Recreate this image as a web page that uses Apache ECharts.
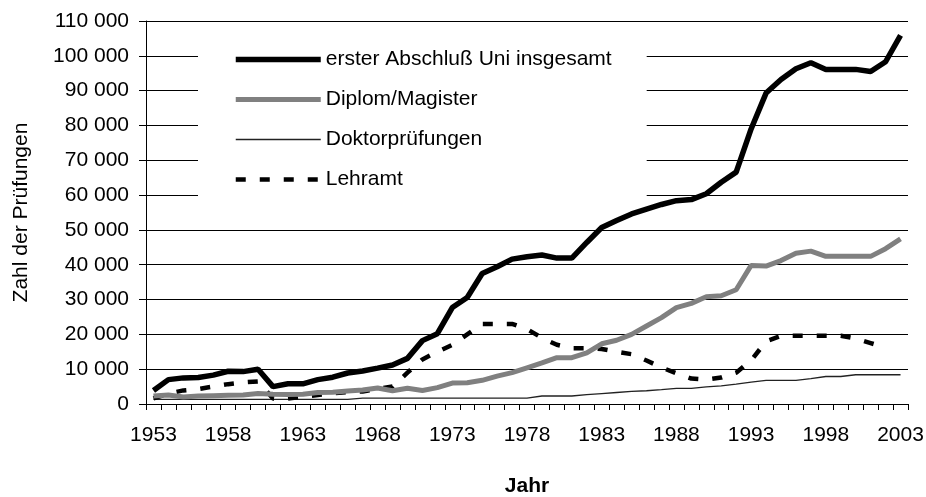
<!DOCTYPE html>
<html>
<head>
<meta charset="utf-8">
<script src="https://cdn.jsdelivr.net/npm/echarts@6/dist/echarts.min.js"></script>
<style>
  html, body { margin: 0; padding: 0; background: #fff; }
  #main { width: 926px; height: 497px; }
</style>
</head>
<body>
<div id="main"></div>
<script>
// Jahre (Kategorien)
var years = ['1953','1954','1955','1956','1957','1958','1959','1960','1961','1962',
  '1963','1964','1965','1966','1967','1968','1969','1970','1971','1972',
  '1973','1974','1975','1976','1977','1978','1979','1980','1981','1982',
  '1983','1984','1985','1986','1987','1988','1989','1990','1991','1992',
  '1993','1994','1995','1996','1997','1998','1999','2000','2001','2002','2003'];

// erster Abschluß Uni insgesamt
var gesamt = [3900, 7000, 7500, 7600, 8300, 9400, 9300, 10000, 5000, 5800,
  5800, 7000, 7700, 8900, 9500, 10300, 11200, 13100, 18200, 20200,
  27700, 30600, 37500, 39400, 41600, 42300, 42800, 41900, 41900, 46400,
  50700, 52700, 54600, 56000, 57300, 58400, 58700, 60400, 63700, 66600,
  79000, 89300, 93200, 96300, 98000, 96100, 96100, 96100, 95500, 98300, 105900];

// Diplom/Magister
var diplom = [2300, 2600, 2000, 2300, 2400, 2500, 2600, 3000, 2800, 2700,
  2800, 3300, 3400, 3700, 4000, 4600, 3800, 4500, 3900, 4700,
  6000, 6100, 6800, 8000, 9000, 10400, 11800, 13300, 13300, 14700,
  17300, 18300, 20000, 22400, 24800, 27700, 28900, 30800, 31100, 32800,
  39800, 39600, 41200, 43300, 43900, 42400, 42400, 42400, 42400, 44600, 47400];

// Doktorprüfungen
var doktor = [1300, 1300, 1300, 1300, 1300, 1300, 1300, 1300, 1300, 1300,
  1300, 1300, 1300, 1300, 1700, 1700, 1700, 1700, 1700, 1700,
  1700, 1700, 1700, 1700, 1700, 1700, 2300, 2300, 2300, 2700,
  3000, 3300, 3600, 3800, 4100, 4500, 4500, 4900, 5200, 5700,
  6300, 6800, 6800, 6800, 7300, 7900, 7900, 8400, 8400, 8400, 8400];

// Lehramt
var lehramt = [1600, 3000, 3900, 4300, 5000, 5700, 6200, 6500, 1600, 1600,
  2100, 2600, 3100, 3400, 3600, 4300, 5000, 9000, 12800, 15000,
  17000, 20000, 23000, 23000, 23000, 21500, 19000, 17000, 16000, 16000,
  15800, 15000, 14300, 12500, 10500, 8800, 7300, 7000, 7600, 9000,
  12500, 18000, 19600, 19600, 19600, 19600, 19600, 18800, 17500, 16200, '-'];

var yTicks = { min: 0, max: 110000, step: 10000 };
var markYear = '1993';

var FONT = 'Liberation Sans, Arial, sans-serif';

function fmt(v) {
  return String(v).replace(/\B(?=(\d{3})+(?!\d))/g, ' ');
}

var chart = echarts.init(document.getElementById('main'), null, { renderer: 'canvas' });

var option = {
  backgroundColor: '#fff',
  animation: false,
  textStyle: { fontFamily: FONT },
  grid: { left: 146, right: 18, top: 21, bottom: 93, outerBoundsMode: 'none' },
  legend: {
    orient: 'vertical',
    left: 198,
    top: 35,
    padding: [14, 35, 22, 35],
    backgroundColor: '#fff',
    itemWidth: 85,
    itemHeight: 14,
    itemGap: 19,
    itemStyle: { opacity: 0 },
    lineStyle: { width: 'inherit' },
    textStyle: { fontSize: 21, color: '#000', fontFamily: FONT },
    data: ['erster Abschluß Uni insgesamt', 'Diplom/Magister', 'Doktorprüfungen', 'Lehramt']
  },
  xAxis: {
    type: 'category',
    data: years,
    boundaryGap: true,
    name: 'Jahr',
    nameLocation: 'middle',
    nameGap: 72,
    nameTextStyle: { fontSize: 21, fontWeight: 'bold', color: '#000', fontFamily: FONT },
    axisLine: { lineStyle: { color: '#000', width: 1 } },
    axisTick: { show: true, interval: 0, length: 6, lineStyle: { color: '#000' } },
    axisLabel: { interval: 4, margin: 21, fontSize: 21, color: '#000', fontFamily: FONT },
    splitLine: { show: false }
  },
  yAxis: {
    type: 'value',
    min: yTicks.min,
    max: yTicks.max,
    interval: yTicks.step,
    name: 'Zahl der Prüfungen',
    nameLocation: 'middle',
    nameGap: 114,
    nameTextStyle: { fontSize: 21, color: '#000', fontFamily: FONT },
    axisLine: { show: true, lineStyle: { color: '#000', width: 1 } },
    axisTick: { show: true, length: 7, lineStyle: { color: '#000' } },
    axisLabel: { margin: 17, fontSize: 21, color: '#000', fontFamily: FONT, formatter: fmt },
    splitLine: { show: true, lineStyle: { color: '#000', width: 1 } }
  },
  series: [
    {
      name: 'Doktorprüfungen',
      type: 'line',
      data: doktor,
      symbol: 'none',
      z: 3,
      lineStyle: { color: '#222', width: 1.3 },
      itemStyle: { color: '#222' }
    },
    {
      name: 'Lehramt',
      type: 'line',
      data: lehramt,
      symbol: 'none',
      z: 4,
      lineStyle: { color: '#000', width: 4.5, type: [10, 14] },
      itemStyle: { color: '#000' }
    },
    {
      name: 'Diplom/Magister',
      type: 'line',
      data: diplom,
      symbol: 'none',
      z: 5,
      lineStyle: { color: '#808080', width: 5 },
      itemStyle: { color: '#808080' }
    },
    {
      name: 'erster Abschluß Uni insgesamt',
      type: 'line',
      data: gesamt,
      symbol: 'none',
      clip: false,
      z: 6,
      lineStyle: { color: '#000', width: 5.5 },
      itemStyle: { color: '#000' },
      markLine: {
        silent: true,
        symbol: 'none',
        label: { show: false },
        lineStyle: { color: '#000', width: 1.5, type: 'solid' },
        data: [[{ coord: [markYear, 0] }, { coord: [markYear, 114000] }]]
      }
    }
  ]
};

chart.setOption(option);
</script>
</body>
</html>
